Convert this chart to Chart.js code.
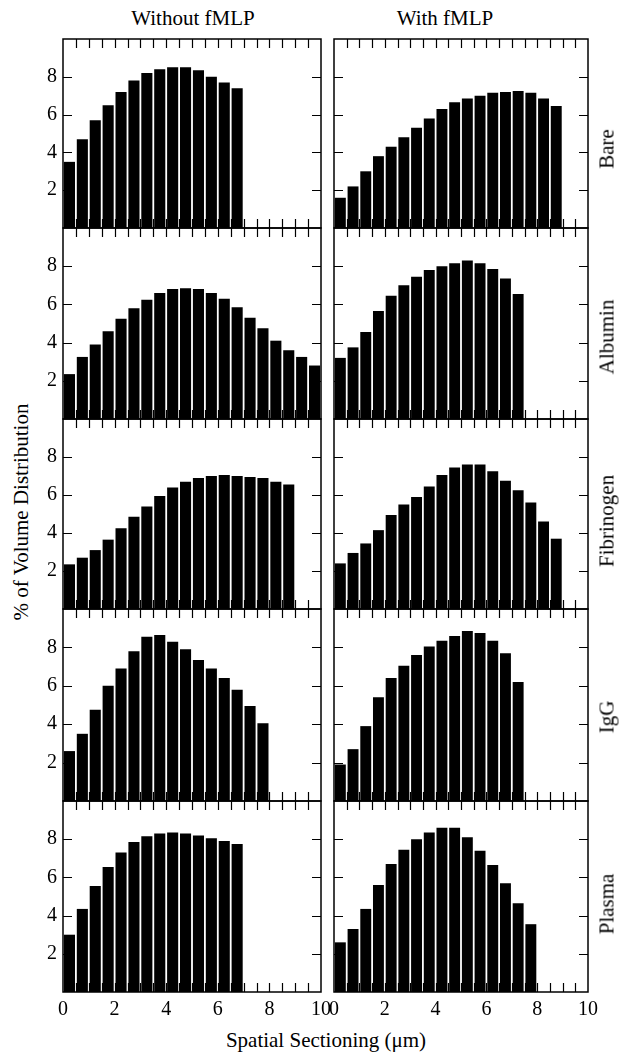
<!DOCTYPE html>
<html>
<head>
<meta charset="utf-8">
<script src="https://cdn.jsdelivr.net/npm/chart.js@4.4.1/dist/chart.umd.min.js"></script>
<style>
  html, body { margin: 0; padding: 0; background: #fff; }
  body {
    width: 629px; height: 1052px; position: relative; overflow: hidden;
    font-family: "Liberation Serif", "DejaVu Serif", serif; color: #000;
  }
  canvas { position: absolute; }
  .label {
    position: absolute; font-size: 21px; white-space: nowrap; line-height: 1;
    transform: translate(-50%, -50%);
  }
  .label.vert { transform: translate(-50%, -50%) rotate(-90deg); }
</style>
</head>
<body>
<div class="label" style="left:193px; top:18px">Without fMLP</div>
<div class="label" style="left:445px; top:18px">With fMLP</div>
<div class="label vert" style="left:21px; top:512px">% of Volume Distribution</div>
<div class="label" style="left:326px; top:1040px">Spatial Sectioning (μm)</div>

<script>
// centres of the 0.5 µm sections (x, µm)
const binCenters = [0.25, 0.75, 1.25, 1.75, 2.25, 2.75, 3.25, 3.75, 4.25, 4.75,
  5.25, 5.75, 6.25, 6.75, 7.25, 7.75, 8.25, 8.75, 9.25, 9.75];

const coatings = ['Bare', 'Albumin', 'Fibrinogen', 'IgG', 'Plasma'];

// % of volume distribution
const bareWithout = [3.5, 4.7, 5.7, 6.5, 7.2, 7.8, 8.2, 8.4, 8.5, 8.5, 8.35, 8.0, 7.7, 7.4];
const bareWith = [1.6, 2.2, 3.0, 3.8, 4.3, 4.8, 5.3, 5.8, 6.3, 6.65, 6.85, 7.0, 7.15, 7.2, 7.25, 7.15, 6.85, 6.45];
const albuminWithout = [2.35, 3.25, 3.9, 4.6, 5.25, 5.8, 6.25, 6.6, 6.8, 6.85, 6.8, 6.6, 6.3, 5.85, 5.3, 4.75, 4.1, 3.6, 3.25, 2.8];
const albuminWith = [3.2, 3.75, 4.55, 5.65, 6.45, 7.0, 7.45, 7.8, 8.0, 8.15, 8.3, 8.15, 7.85, 7.35, 6.55];
const fibrinogenWithout = [2.35, 2.7, 3.1, 3.65, 4.25, 4.85, 5.4, 5.95, 6.4, 6.7, 6.9, 7.0, 7.05, 7.0, 6.95, 6.9, 6.7, 6.55];
const fibrinogenWith = [2.4, 2.95, 3.45, 4.15, 4.95, 5.5, 5.9, 6.45, 7.05, 7.45, 7.6, 7.6, 7.25, 6.75, 6.25, 5.6, 4.6, 3.7];
const iggWithout = [2.6, 3.5, 4.75, 6.0, 6.9, 7.8, 8.55, 8.65, 8.3, 7.9, 7.35, 6.9, 6.4, 5.8, 4.95, 4.05];
const iggWith = [1.9, 2.7, 3.9, 5.4, 6.4, 7.05, 7.6, 8.05, 8.35, 8.6, 8.85, 8.75, 8.35, 7.7, 6.2];
const plasmaWithout = [3.0, 4.35, 5.55, 6.55, 7.3, 7.85, 8.15, 8.3, 8.35, 8.3, 8.2, 8.05, 7.9, 7.75];
const plasmaWith = [2.6, 3.3, 4.35, 5.6, 6.7, 7.45, 8.0, 8.35, 8.6, 8.6, 8.1, 7.4, 6.65, 5.7, 4.65, 3.55];

// tick values
const xTickLabels = [0, 2, 4, 6, 8, 10];
const xMinorTicks = [0.5, 1, 1.5, 2, 2.5, 3, 3.5, 4, 4.5, 5, 5.5, 6, 6.5, 7, 7.5, 8, 8.5, 9, 9.5];
const yTickLabels = [2, 4, 6, 8];

const panelRows = [
  [bareWithout, bareWith],
  [albuminWithout, albuminWith],
  [fibrinogenWithout, fibrinogenWith],
  [iggWithout, iggWith],
  [plasmaWithout, plasmaWith],
];

// layout of the plot boxes (page pixels)
const ROW_TOP = [39, 228, 419, 609, 801];
const ROW_BOTTOM = [228, 419, 609, 801, 992];
const COL_LEFT = [63, 334];
const COL_RIGHT = [321, 588];
const ROW_LABEL_X = 607;
const ROW_LABEL_Y = [149, 337, 521, 717, 904];
const TICK_LEN = 9;

Chart.defaults.font.family = '"Liberation Serif", "DejaVu Serif", serif';
Chart.defaults.font.size = 20;
Chart.defaults.color = '#000';

/** frame box and inward tick marks on all four sides */
const frameTicks = {
  id: 'frameTicks',
  afterDatasetsDraw(chart) {
    const { ctx, chartArea: a, scales: { x, y } } = chart;
    ctx.save();
    ctx.strokeStyle = '#000';
    ctx.lineWidth = 1.5;
    ctx.strokeRect(a.left, a.top, a.right - a.left, a.bottom - a.top);
    ctx.beginPath();
    xMinorTicks.forEach((v) => {
      const px = Math.round(x.getPixelForValue(v)) + 0.5;
      ctx.moveTo(px, a.top);
      ctx.lineTo(px, a.top + TICK_LEN);
      ctx.moveTo(px, a.bottom);
      ctx.lineTo(px, a.bottom - TICK_LEN);
    });
    yTickLabels.forEach((v) => {
      const py = Math.round(y.getPixelForValue(v)) + 0.5;
      ctx.moveTo(a.left, py);
      ctx.lineTo(a.left + TICK_LEN, py);
      ctx.moveTo(a.right, py);
      ctx.lineTo(a.right - TICK_LEN, py);
    });
    ctx.lineWidth = 1.2;
    ctx.stroke();
    ctx.restore();
  },
};

function makePanel(row, col) {
  const values = panelRows[row][col];
  const bottomRow = row === panelRows.length - 1;
  const pad = {
    top: 20,
    bottom: bottomRow ? 0 : 20,
    left: col === 0 ? 0 : 24,
    right: 26,
  };
  const xAxisH = bottomRow ? 40 : 0;
  const yAxisW = col === 0 ? COL_LEFT[0] : 0;

  const canvas = document.createElement('canvas');
  const left = col === 0 ? 0 : COL_LEFT[1] - pad.left;
  const width = COL_RIGHT[col] - left + pad.right;
  const top = ROW_TOP[row] - pad.top;
  const height = ROW_BOTTOM[row] - top + pad.bottom + xAxisH;
  canvas.width = width;
  canvas.height = height;
  canvas.style.left = left + 'px';
  canvas.style.top = top + 'px';
  canvas.style.width = width + 'px';
  canvas.style.height = height + 'px';
  document.body.appendChild(canvas);

  return new Chart(canvas, {
    type: 'bar',
    data: {
      datasets: [{
        data: values.map((v, i) => ({ x: binCenters[i], y: v })),
        backgroundColor: '#000',
        borderWidth: 0,
        categoryPercentage: 1,
        barPercentage: 0.86,
      }],
    },
    options: {
      responsive: false,
      animation: false,
      events: [],
      layout: { padding: pad },
      plugins: { legend: { display: false }, tooltip: { enabled: false } },
      scales: {
        x: {
          type: 'linear',
          min: 0,
          max: 10,
          offset: false,
          display: bottomRow,
          grid: { display: false, drawTicks: false, offset: false },
          border: { display: false },
          ticks: { padding: 6, maxRotation: 0, autoSkip: false },
          afterBuildTicks: (s) => { s.ticks = xTickLabels.map((v) => ({ value: v })); },
          afterFit: (s) => { if (bottomRow) s.height = xAxisH; },
        },
        y: {
          type: 'linear',
          min: 0,
          max: 10,
          display: col === 0,
          grid: { display: false, drawTicks: false },
          border: { display: false },
          ticks: { padding: 6 },
          afterBuildTicks: (s) => { s.ticks = yTickLabels.map((v) => ({ value: v })); },
          afterFit: (s) => { s.width = yAxisW; },
        },
      },
    },
    plugins: [frameTicks],
  });
}

panelRows.forEach((r, row) => {
  makePanel(row, 0);
  makePanel(row, 1);
  const lab = document.createElement('div');
  lab.className = 'label vert';
  lab.style.left = ROW_LABEL_X + 'px';
  lab.style.top = ROW_LABEL_Y[row] + 'px';
  lab.textContent = coatings[row];
  document.body.appendChild(lab);
});
</script>
</body>
</html>
